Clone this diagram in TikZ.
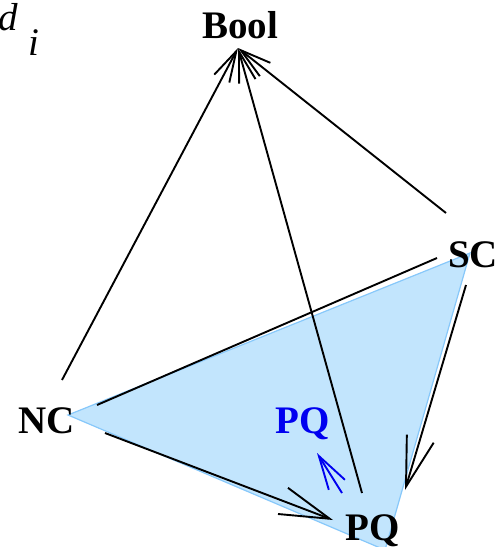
\documentclass[tikz,border=0pt]{standalone}
\usepackage{fontspec}
\setmainfont{Liberation Serif}
\usetikzlibrary{arrows.meta}
\definecolor{trifill}{RGB}{194,229,253}
\definecolor{triedge}{RGB}{135,200,250}
\definecolor{pqblue}{RGB}{0,0,240}
\begin{document}
\begin{tikzpicture}[x=1pt,y=-1pt,
  lbl/.style={font=\fontsize{39}{44}\selectfont\bfseries, inner sep=0pt, anchor=base west},
  ilbl/.style={font=\fontsize{39}{44}\selectfont\itshape, inner sep=0pt, anchor=base west},
  conn/.style={line width=1.9pt, black},
  bigtip/.style={-{Straight Barb[length=50pt,width=28pt]}},
  smalltip/.style={-{Straight Barb[length=31pt,width=17pt]}},
  tri/.style={fill=trifill, draw=triedge, line width=1.2pt}]
\useasboundingbox (0,0) rectangle (496,547);
% shaded triangle
\filldraw[tri] (68,415) -- (470,253) -- (385,550) -- cycle;
% labels
\node[lbl] (Bool) at (202,38) {Bool};
\node[lbl] (SC) at (448,267) {SC};
\node[lbl] (NC) at (18,433) {NC};
\node[lbl] (PQ) at (345,540) {PQ};
\node[lbl, text=pqblue] (PQb) at (275,433) {PQ};
\node[ilbl] (d) at (-2,30) {d};
\node[ilbl] (i) at (28,55) {i};
% connector end points
\coordinate (boolT) at (238,48);
\coordinate (ncT) at (62,380);
\coordinate (ncR1) at (97,405);
\coordinate (ncR2) at (105,433);
\coordinate (scT) at (446,213);
\coordinate (scL) at (437,258);
\coordinate (scB) at (466,285);
\coordinate (pqT) at (362,493);
\coordinate (pqL) at (333,520);
\coordinate (pqR) at (405,490);
\coordinate (bq1) at (342,493);
\coordinate (bq2) at (317,453);
% connectors
\draw[conn, smalltip] (ncT) -- (boolT);
\draw[conn, smalltip] (pqT) -- (boolT);
\draw[conn, smalltip] (scT) -- (boolT);
\draw[conn] (ncR1) -- (scL);
\draw[conn, bigtip] (ncR2) -- (pqL);
\draw[conn, bigtip] (scB) -- (pqR);
\draw[line width=1.9pt, pqblue, -{Straight Barb[length=34pt,width=19pt]}] (bq1) -- (bq2);
\end{tikzpicture}
\end{document}
